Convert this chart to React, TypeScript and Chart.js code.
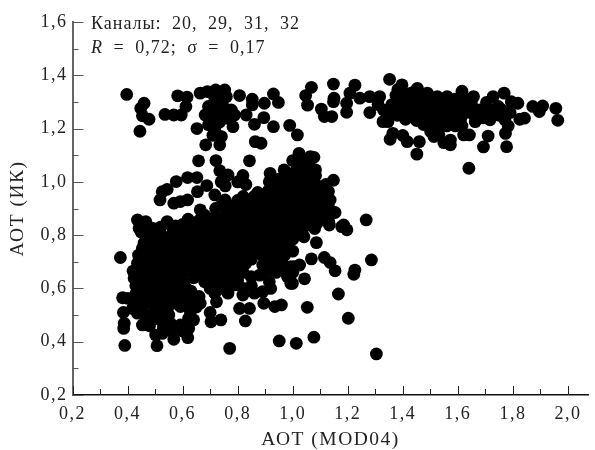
import React, { useEffect, useRef } from "react";
import { Chart, registerables } from "chart.js";

Chart.register(...registerables);

type P = [number, number];

const xMajorTicks = [0.2, 0.4, 0.6, 0.8, 1.0, 1.2, 1.4, 1.6, 1.8, 2.0];
const xMinorTicks = [0.3, 0.5, 0.7, 0.9, 1.1, 1.3, 1.5, 1.7, 1.9];
const yMajorTicks = [0.2, 0.4, 0.6, 0.8, 1.0, 1.2, 1.4, 1.6];
const yMinorTicks = [0.3, 0.5, 0.7, 0.9, 1.1, 1.3, 1.5];

const upperLeftPoints: P[] = [
  [0.397, 1.328], [0.46, 1.295], [0.448, 1.276], [0.454, 1.248], [0.478, 1.235], [0.445, 1.19],
  [0.536, 1.253], [0.568, 1.251], [0.595, 1.251], [0.612, 1.283], [0.616, 1.318], [0.582, 1.323],
  [0.664, 1.333], [0.69, 1.339], [0.72, 1.345], [0.753, 1.345], [0.759, 1.32], [0.717, 1.314],
  [0.694, 1.283], [0.682, 1.251], [0.706, 1.245], [0.73, 1.283], [0.753, 1.276], [0.777, 1.27],
  [0.789, 1.251], [0.765, 1.238], [0.783, 1.207], [0.717, 1.2], [0.694, 1.214], [0.652, 1.2],
  [0.741, 1.17], [0.723, 1.176], [0.735, 1.139], [0.684, 1.139], [0.807, 1.324], [0.853, 1.31],
  [0.853, 1.289], [0.897, 1.295], [0.93, 1.33], [0.948, 1.298], [0.831, 1.251], [0.861, 1.216],
  [0.895, 1.241], [0.93, 1.207], [0.989, 1.212], [1.017, 1.176], [0.864, 1.151], [0.885, 1.145],
  [0.658, 1.079], [0.721, 1.08], [0.843, 1.079], [0.735, 1.042], [0.765, 1.026], [0.819, 1.024],
  [0.918, 1.032], [0.577, 1.001], [0.618, 1.016], [0.652, 1.016], [0.688, 0.986], [0.654, 0.963],
  [0.544, 0.972], [0.526, 0.963], [0.518, 0.932], [0.568, 0.92], [0.592, 0.926], [0.618, 0.932],
  [0.717, 0.951], [0.664, 0.895], [0.436, 0.857], [0.466, 0.851], [0.442, 0.826],
  [0.8, 1.0], [0.74, 1.0], [0.755, 0.985], [0.83, 0.99], [0.7, 1.27], [0.72, 1.26],
  [0.74, 1.3], [0.735, 1.225], [0.71, 1.175], [0.76, 1.255], [0.72, 1.33], [0.74, 1.32],
];

const upperRightPoints: P[] = [
  [1.068, 1.355], [1.047, 1.324], [1.054, 1.288], [1.148, 1.367], [1.15, 1.314], [1.148, 1.301],
  [1.226, 1.363], [1.208, 1.333], [1.196, 1.295], [1.196, 1.261], [1.104, 1.273], [1.115, 1.245],
  [1.142, 1.245], [1.352, 1.385], [1.397, 1.364], [1.382, 1.347], [1.244, 1.314], [1.28, 1.32],
  [1.316, 1.32], [1.28, 1.26], [1.328, 1.226], [1.346, 1.226], [1.364, 1.182], [1.354, 1.16],
  [1.4, 1.174], [1.416, 1.151], [1.46, 1.151], [1.451, 1.104], [1.64, 1.051], [1.693, 1.131],
  [1.777, 1.132], [1.71, 1.172], [1.773, 1.182], [1.573, 1.157], [1.573, 1.139], [1.549, 1.147],
  [1.621, 1.176], [1.642, 1.176], [1.591, 1.21], [1.615, 1.21], [1.525, 1.189], [1.501, 1.189],
  [1.513, 1.17], [1.531, 1.176], [1.956, 1.276], [1.963, 1.231], [1.908, 1.285], [1.872, 1.283],
  [1.896, 1.264], [1.842, 1.239], [1.825, 1.235], [1.818, 1.295], [1.794, 1.301], [1.768, 1.333],
  [1.728, 1.32], [1.704, 1.298], [1.747, 1.283], [1.783, 1.21], [1.771, 1.233], [1.717, 1.233],
  [1.663, 1.226], [1.615, 1.34], [1.657, 1.32], [1.561, 1.32], [1.525, 1.32], [1.489, 1.333],
  [1.453, 1.351], [1.42, 1.33], [1.39, 1.31], [1.36, 1.29], [1.33, 1.27], [1.31, 1.29],
  [1.41, 1.29], [1.44, 1.31], [1.47, 1.3], [1.5, 1.31], [1.53, 1.295], [1.56, 1.29],
  [1.59, 1.31], [1.62, 1.3], [1.65, 1.29], [1.42, 1.26], [1.45, 1.27], [1.48, 1.26],
  [1.51, 1.27], [1.54, 1.26], [1.57, 1.27], [1.6, 1.27], [1.63, 1.26], [1.66, 1.25],
  [1.38, 1.25], [1.41, 1.235], [1.45, 1.23], [1.49, 1.225], [1.52, 1.235], [1.55, 1.23],
  [1.58, 1.24], [1.61, 1.235], [1.69, 1.24], [1.75, 1.25], [1.79, 1.26], [1.72, 1.27],
  [1.375, 1.325], [1.405, 1.315], [1.435, 1.335], [1.465, 1.325], [1.495, 1.285], [1.525, 1.31],
  [1.555, 1.31], [1.585, 1.285], [1.615, 1.32], [1.645, 1.31], [1.4, 1.27], [1.435, 1.285],
  [1.465, 1.28], [1.495, 1.245], [1.525, 1.28], [1.555, 1.25], [1.585, 1.255], [1.615, 1.28],
  [1.645, 1.275], [1.35, 1.265], [1.375, 1.275], [1.43, 1.245], [1.465, 1.245], [1.475, 1.215],
  [1.505, 1.205], [1.535, 1.21], [1.56, 1.21], [1.68, 1.27], [1.7, 1.255], [1.76, 1.27],
];

const coreUpperPoints: P[] = [
  [1.023, 1.107], [1.064, 1.095], [1.0, 1.08], [1.04, 1.07], [1.077, 1.092], [0.969, 1.045],
  [1.01, 1.04], [1.05, 1.035], [1.083, 1.045], [0.915, 1.0], [0.95, 1.01], [0.99, 1.005],
  [1.03, 1.0], [1.07, 1.0], [1.083, 1.024], [1.148, 1.006], [0.873, 0.96], [0.91, 0.965],
  [0.95, 0.97], [0.99, 0.965], [1.03, 0.96], [1.07, 0.965], [1.11, 0.97], [1.13, 0.964],
  [0.8, 0.93], [0.84, 0.93], [0.88, 0.925], [0.92, 0.93], [0.96, 0.925], [1.0, 0.93],
  [1.04, 0.925], [1.08, 0.93], [1.136, 0.932], [0.754, 0.932], [0.72, 0.9], [0.76, 0.89],
  [0.8, 0.895], [0.84, 0.89], [0.88, 0.885], [0.92, 0.89], [0.96, 0.885], [1.0, 0.89],
  [1.04, 0.885], [1.08, 0.89], [1.119, 0.882], [1.154, 0.885], [0.62, 0.86], [0.66, 0.855],
  [0.7, 0.86], [0.74, 0.85], [0.78, 0.855], [0.82, 0.85], [0.86, 0.845], [0.9, 0.85],
  [0.94, 0.845], [0.98, 0.85], [1.02, 0.845], [1.06, 0.85], [1.088, 0.845], [1.131, 0.851],
  [1.185, 0.838], [1.267, 0.857], [0.49, 0.826], [0.544, 0.851], [0.575, 0.835], [0.61, 0.82],
  [0.65, 0.815], [0.69, 0.82], [0.73, 0.81], [0.77, 0.815], [0.81, 0.81], [0.85, 0.805],
  [0.89, 0.81], [0.93, 0.805], [0.97, 0.81], [1.011, 0.8], [1.041, 0.794], [1.133, 0.838],
  [1.178, 0.832], [1.197, 0.82], [0.478, 0.8], [0.449, 0.812], [0.52, 0.805], [0.56, 0.8],
];

const coreLowerPoints: P[] = [
  [0.46, 0.77], [0.5, 0.775], [0.54, 0.77], [0.58, 0.765], [0.62, 0.78], [0.66, 0.775],
  [0.7, 0.78], [0.74, 0.77], [0.78, 0.775], [0.82, 0.77], [0.86, 0.765], [0.9, 0.77],
  [0.94, 0.765], [0.98, 0.77], [1.086, 0.772], [0.454, 0.751], [0.49, 0.735], [0.53, 0.73],
  [0.57, 0.735], [0.61, 0.73], [0.65, 0.735], [0.69, 0.73], [0.73, 0.735], [0.77, 0.73],
  [0.81, 0.735], [0.85, 0.73], [0.89, 0.725], [0.93, 0.73], [0.97, 0.725], [1.0, 0.74],
  [0.436, 0.694], [0.47, 0.7], [0.51, 0.695], [0.55, 0.69], [0.59, 0.695], [0.63, 0.69],
  [0.67, 0.695], [0.71, 0.69], [0.75, 0.695], [0.79, 0.69], [0.83, 0.695], [0.891, 0.688],
  [0.93, 0.69], [0.96, 0.7], [0.993, 0.682], [1.025, 0.688], [1.005, 0.682], [0.424, 0.638],
  [0.46, 0.655], [0.5, 0.66], [0.54, 0.655], [0.58, 0.65], [0.62, 0.665], [0.66, 0.66],
  [0.7, 0.655], [0.74, 0.66], [0.78, 0.655], [0.82, 0.66], [0.849, 0.644], [0.981, 0.644],
  [0.915, 0.625], [0.993, 0.619], [0.45, 0.62], [0.485, 0.615], [0.52, 0.62], [0.56, 0.615],
  [0.6, 0.625], [0.68, 0.625], [0.72, 0.63], [0.76, 0.625], [0.789, 0.613], [0.47, 0.58],
  [0.51, 0.58], [0.55, 0.585], [0.59, 0.585], [0.63, 0.59], [0.82, 0.6], [0.49, 0.545],
  [0.53, 0.55], [0.6, 0.55], [0.64, 0.56],
];

const coreInfillPoints: P[] = [
  [1.02, 1.06], [1.06, 1.06], [0.98, 1.02], [1.02, 1.02], [1.06, 1.02], [0.93, 0.985],
  [0.97, 0.985], [1.01, 0.985], [1.05, 0.985], [1.09, 0.985], [1.12, 0.99], [0.82, 0.945],
  [0.86, 0.945], [0.9, 0.945], [0.94, 0.945], [0.98, 0.945], [1.02, 0.945], [1.06, 0.945],
  [1.1, 0.945], [0.74, 0.91], [0.78, 0.91], [0.82, 0.91], [0.86, 0.91], [0.9, 0.91],
  [0.94, 0.91], [0.98, 0.91], [1.02, 0.91], [1.06, 0.91], [1.1, 0.91], [1.13, 0.905],
  [0.68, 0.875], [0.72, 0.87], [0.76, 0.87], [0.8, 0.87], [0.84, 0.87], [0.88, 0.865],
  [0.92, 0.87], [0.96, 0.865], [1.0, 0.87], [1.04, 0.865], [1.08, 0.87], [1.12, 0.865],
  [0.52, 0.83], [0.56, 0.835], [0.6, 0.84], [0.64, 0.835], [0.68, 0.84], [0.72, 0.83],
  [0.76, 0.835], [0.8, 0.83], [0.84, 0.825], [0.88, 0.83], [0.92, 0.825], [0.96, 0.83],
  [1.0, 0.825], [1.04, 0.83], [1.08, 0.825], [0.48, 0.79], [0.5, 0.8], [0.54, 0.79],
  [0.58, 0.785], [0.6, 0.8], [0.64, 0.795], [0.68, 0.8], [0.72, 0.79], [0.76, 0.795],
  [0.8, 0.79], [0.84, 0.785], [0.88, 0.79], [0.92, 0.785], [0.96, 0.79], [1.0, 0.785],
  [0.47, 0.75], [0.51, 0.755], [0.55, 0.75], [0.59, 0.75], [0.63, 0.755], [0.67, 0.755],
  [0.71, 0.755], [0.75, 0.75], [0.79, 0.755], [0.83, 0.75], [0.87, 0.745], [0.91, 0.75],
  [0.95, 0.745], [0.45, 0.715], [0.49, 0.715], [0.53, 0.71], [0.57, 0.71], [0.61, 0.71],
  [0.65, 0.715], [0.69, 0.71], [0.73, 0.715], [0.77, 0.71], [0.81, 0.715], [0.85, 0.71],
  [0.91, 0.705], [0.95, 0.715], [0.44, 0.67], [0.48, 0.675], [0.52, 0.675], [0.56, 0.67],
  [0.6, 0.67], [0.64, 0.675], [0.68, 0.675], [0.72, 0.67], [0.76, 0.675], [0.8, 0.675],
  [0.47, 0.635], [0.51, 0.64], [0.55, 0.635], [0.59, 0.63], [0.64, 0.64], [0.7, 0.635],
  [0.74, 0.64], [0.78, 0.635], [0.45, 0.595], [0.49, 0.6], [0.53, 0.6], [0.57, 0.6],
  [0.61, 0.605], [0.5, 0.56], [0.54, 0.565], [0.62, 0.565], [0.58, 0.56],
];

const coreFringePoints: P[] = [
  [0.46, 0.54], [0.5, 0.52], [0.47, 0.5], [0.52, 0.49], [0.55, 0.5], [0.43, 0.58],
  [0.44, 0.55], [0.555, 0.54], [0.48, 0.46], [0.53, 0.45], [0.56, 0.44], [0.6, 0.44],
  [0.65, 0.53], [0.62, 0.54], [0.66, 0.57], [0.7, 0.6], [0.74, 0.6], [0.8, 0.63],
  [0.85, 0.61], [0.88, 0.65], [0.9, 0.66], [0.94, 0.66], [0.96, 0.67], [1.0, 0.66],
  [0.92, 0.6], [0.43, 0.61], [0.42, 0.665], [0.44, 0.725],
];

const lowerPoints: P[] = [
  [0.374, 0.716], [0.382, 0.565], [0.385, 0.51], [0.388, 0.469], [0.386, 0.45], [0.39, 0.386],
  [0.507, 0.385], [0.568, 0.409], [0.619, 0.415], [0.771, 0.375], [0.951, 0.403], [1.013, 0.394],
  [0.7, 0.51], [0.703, 0.475], [0.739, 0.482], [0.807, 0.525], [0.843, 0.525], [0.828, 0.478],
  [0.895, 0.544], [0.935, 0.532], [0.959, 0.538], [0.861, 0.582], [0.819, 0.575], [0.891, 0.588],
  [0.765, 0.582], [0.723, 0.55], [0.717, 0.582], [0.664, 0.544], [0.64, 0.482], [0.622, 0.45],
  [0.592, 0.463], [0.556, 0.469], [0.526, 0.475], [0.502, 0.425], [0.526, 0.431], [0.454, 0.463],
  [0.436, 0.507], [0.466, 0.5], [0.4, 0.563], [0.418, 0.525], [0.49, 0.482], [0.514, 0.513],
  [0.544, 0.525], [0.592, 0.532], [0.628, 0.513], [0.622, 0.488], [1.043, 0.636], [0.999, 0.619],
  [1.053, 0.529], [1.166, 0.579], [1.202, 0.488], [1.304, 0.354], [1.077, 0.417], [1.068, 0.711],
  [1.115, 0.716], [1.136, 0.697], [1.154, 0.666], [1.226, 0.669], [1.222, 0.653], [1.286, 0.707],
];

const noteLineOne = "Каналы: 20, 29, 31, 32";
const noteLineTwo = [" = 0,72; σ = 0,17"];
const allPoints: P[] = [
  ...upperLeftPoints, ...upperRightPoints, ...coreUpperPoints, ...coreLowerPoints,
  ...coreInfillPoints, ...coreFringePoints, ...lowerPoints,
];

const SERIF = '"Liberation Serif", serif';
const INK = "#222222";

const decorations = {
  id: "decorations",
  beforeDraw(chart: any) {
    chart.ctx.letterSpacing = "1.5px";
  },
  afterDraw(chart: any) {
    const { ctx, scales, chartArea } = chart;
    ctx.save();
    ctx.strokeStyle = "#555555";
    ctx.lineWidth = 1;
    const yTick = (v: number, len: number) => {
      const y = Math.round(scales.y.getPixelForValue(v)) + 0.5;
      ctx.beginPath();
      ctx.moveTo(chartArea.left, y);
      ctx.lineTo(chartArea.left + len, y);
      ctx.stroke();
    };
    yMajorTicks.forEach((v) => yTick(v, 11));
    yMinorTicks.forEach((v) => yTick(v, 6));
    ctx.strokeStyle = "#222222";
    const xTick = (v: number, len: number) => {
      const x = Math.round(scales.x.getPixelForValue(v)) + 0.5;
      ctx.beginPath();
      ctx.moveTo(x, chartArea.bottom);
      ctx.lineTo(x, chartArea.bottom - len);
      ctx.stroke();
    };
    xMajorTicks.forEach((v) => xTick(v, 9));
    xMinorTicks.forEach((v) => xTick(v, 6));

    ctx.fillStyle = INK;
    ctx.textBaseline = "alphabetic";
    ctx.textAlign = "left";
    ctx.letterSpacing = "1px";
    ctx.wordSpacing = "5px";
    ctx.font = `18px ${SERIF}`;
    ctx.fillText(noteLineOne, 91, 29);
    ctx.font = `italic 18px ${SERIF}`;
    ctx.fillText("R", 91, 53);
    const w = ctx.measureText("R").width;
    ctx.font = `18px ${SERIF}`;
    ctx.fillText(noteLineTwo[0], 91 + w, 53);
    ctx.restore();
  },
};

const tickLabel = (value: any) => {
  const tenths = Math.round(Number(value) * 10);
  return tenths % 2 === 0 ? (tenths / 10).toFixed(1).replace(".", ",") : "";
};

export default function App() {
  const ref = useRef<HTMLCanvasElement>(null);
  useEffect(() => {
    const chart = new Chart(ref.current as HTMLCanvasElement, {
      type: "scatter",
      data: {
        datasets: [
          {
            data: allPoints.map(([x, y]) => ({ x, y })),
            backgroundColor: "#000000",
            borderColor: "#000000",
            borderWidth: 0,
            pointRadius: 6.4,
          },
        ],
      },
      plugins: [decorations],
      options: {
        responsive: false,
        animation: false,
        layout: { padding: { top: 22, bottom: 0, left: 0, right: 0 } },
        plugins: { legend: { display: false }, tooltip: { enabled: false } },
        scales: {
          x: {
            type: "linear",
            min: 0.2,
            max: 2.075,
            afterFit: (s: any) => { s.height = 55; },
            grid: { display: false, drawTicks: false },
            border: { color: "#111111", width: 1.5 },
            ticks: {
              stepSize: 0.1,
              autoSkip: false,
              maxRotation: 0,
              includeBounds: false,
              padding: 8,
              color: INK,
              font: { family: SERIF, size: 18 },
              callback: tickLabel,
            },
            title: {
              display: true,
              text: "АОТ (MOD04)",
              color: INK,
              font: { family: SERIF, size: 19.5, lineHeight: 1 },
              padding: { top: 0, bottom: 0 },
            },
          },
          y: {
            type: "linear",
            min: 0.2,
            max: 1.6,
            afterFit: (s: any) => { s.width = 72.5; },
            grid: { display: false, drawTicks: false },
            border: { color: "#666666", width: 2 },
            ticks: {
              stepSize: 0.1,
              autoSkip: false,
              padding: 5,
              color: INK,
              font: { family: SERIF, size: 18 },
              callback: tickLabel,
            },
            title: {
              display: true,
              text: "АОТ (ИК)",
              color: INK,
              font: { family: SERIF, size: 19.5, lineHeight: 1 },
              padding: { top: 8, bottom: 0 },
            },
          },
        },
      },
    } as any);
    return () => chart.destroy();
  }, []);
  return (
    <div style={{ position: "absolute", left: 0, top: 0, width: 595, height: 450 }}>
      <canvas ref={ref} width={595} height={450} style={{ display: "block" }} />
    </div>
  );
}
